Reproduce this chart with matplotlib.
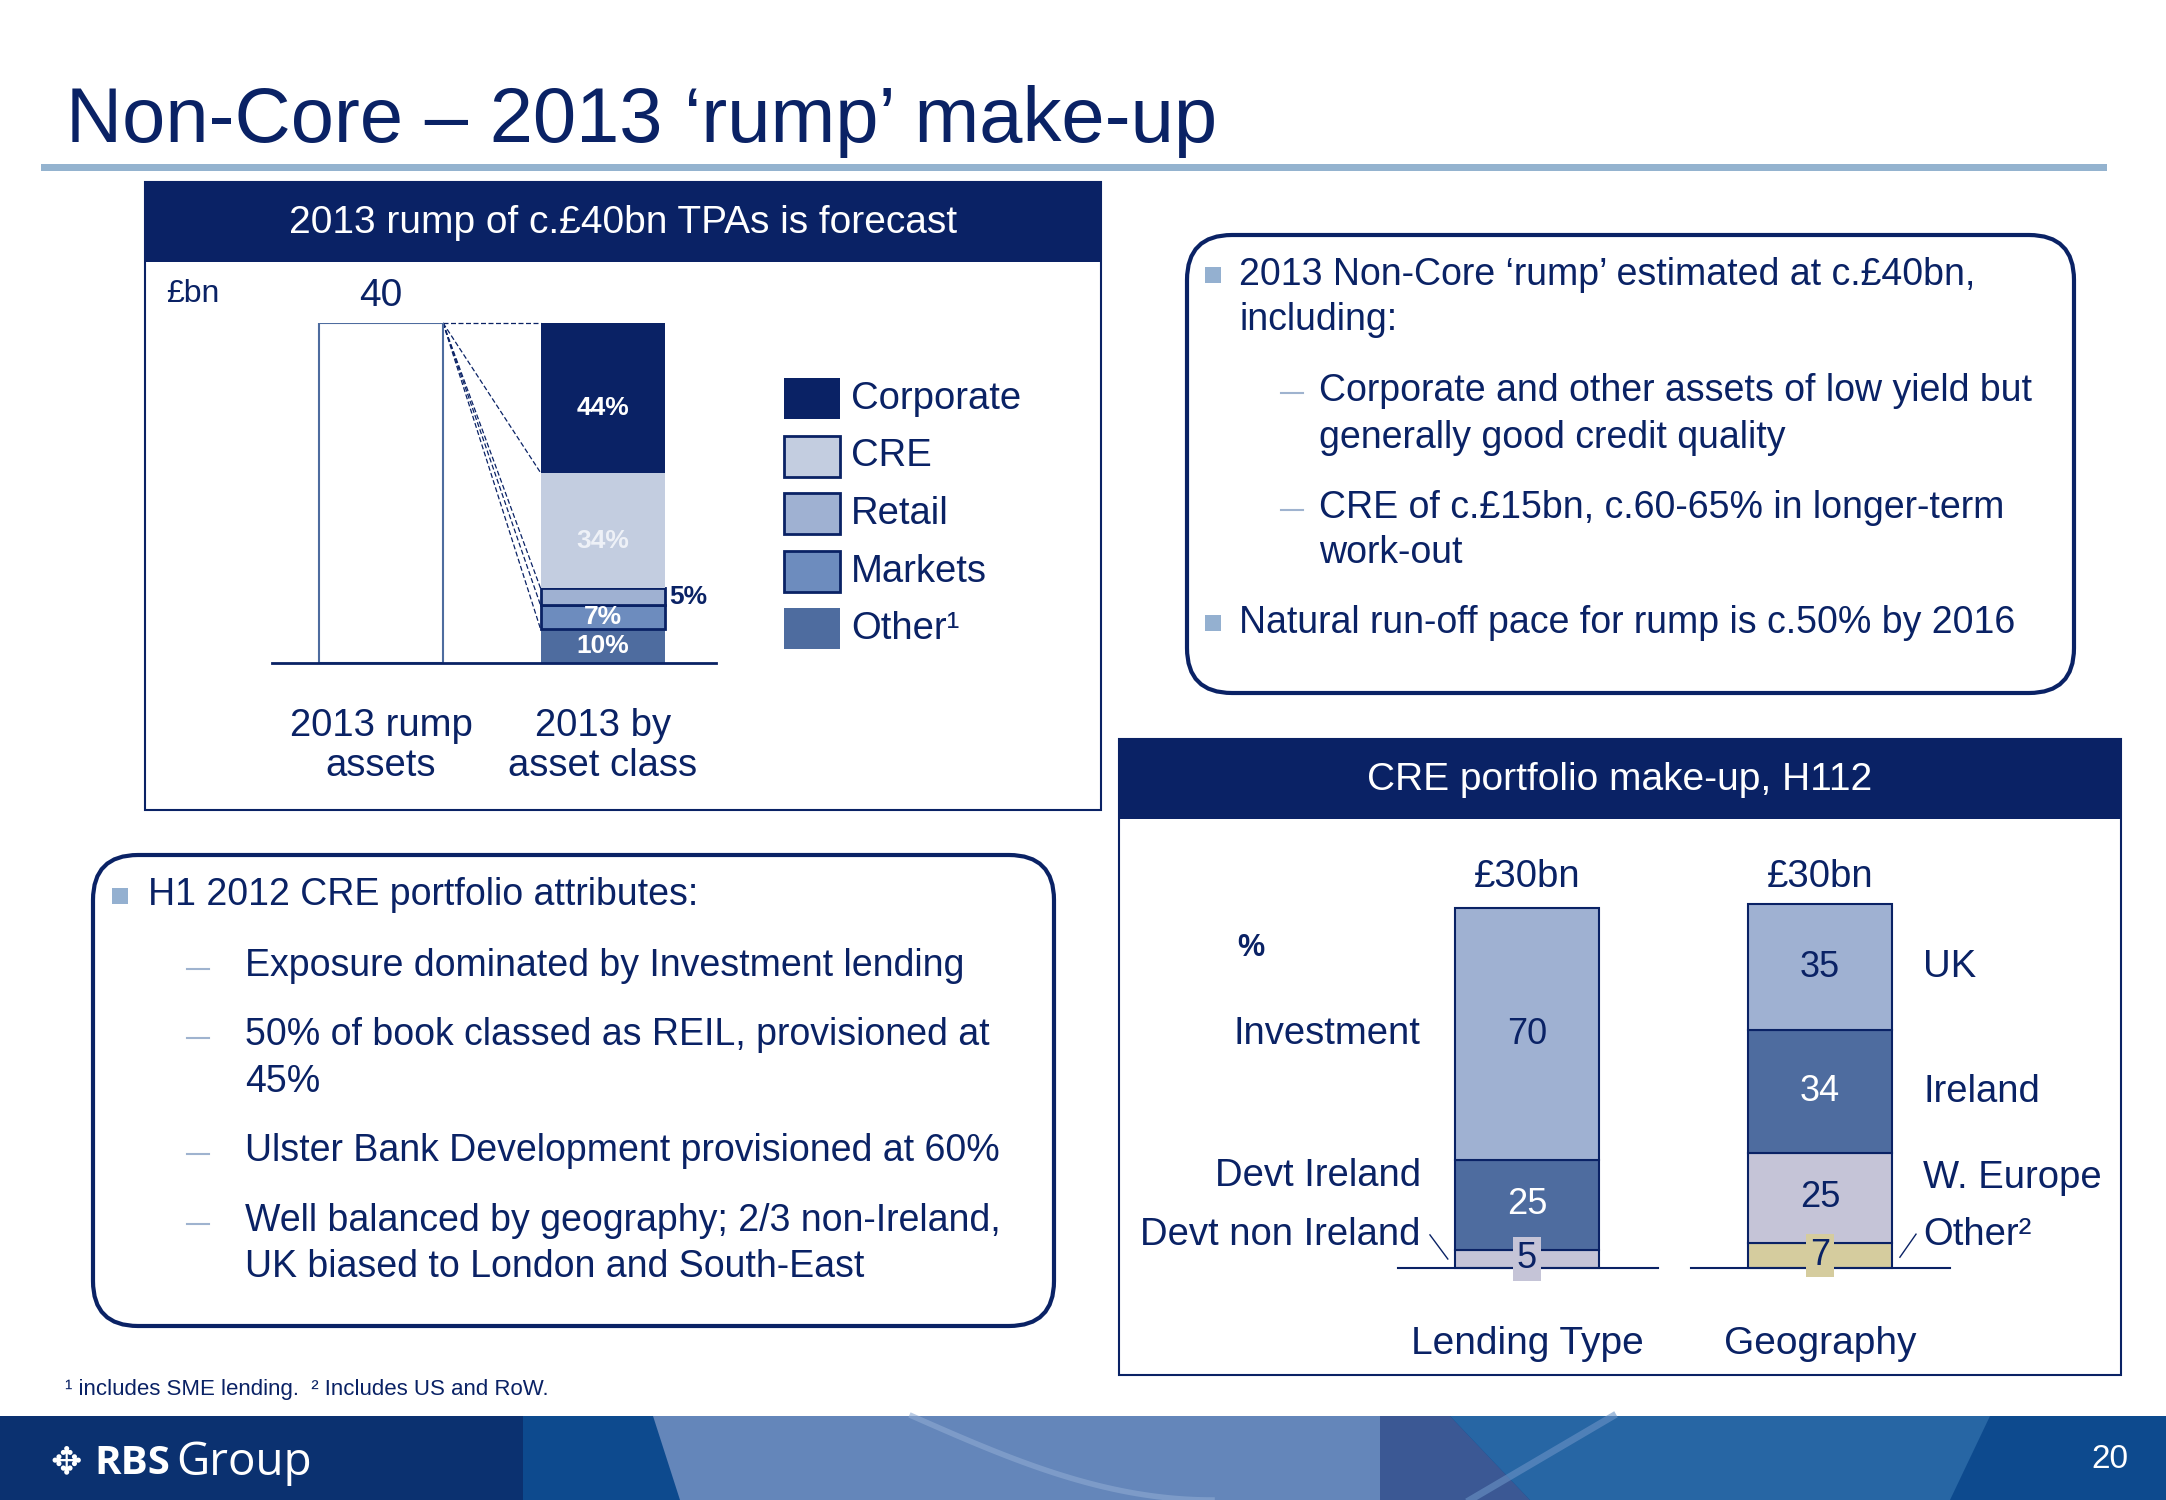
import matplotlib
matplotlib.use('Agg')
import numpy as np
import matplotlib.pyplot as plt
from matplotlib.patches import Rectangle, FancyBboxPatch, Polygon

plt.rcParams['font.family'] = ['Liberation Sans', 'DejaVu Sans']

navy = '#0A2265'
bullet_blue = '#94B0D0'
W, H = 2166, 1500

# left chart: 2013 rump
rump_total_bn = 40
asset_classes = ['Corporate', 'CRE', 'Retail', 'Markets', 'Other¹']
asset_share = [44, 34, 5, 7, 10]
rump_categories = ['2013 rump\nassets', '2013 by\nasset class']

# right chart: CRE portfolio H112
cre_categories = ['Lending Type', 'Geography']
cre_total_bn = [30, 30]
lending_types = ['Investment', 'Devt Ireland', 'Devt non Ireland']
lending_share = [70, 25, 5]
geographies = ['UK', 'Ireland', 'W. Europe', 'Other²']
geography_share = [35, 34, 25, 7]

asset_colors = ['#0A2265', '#C3CDE0', '#9FB1D2', '#6D8CBE', '#4E6C9F']
lending_colors = ['#9FB1D2', '#4E6C9F', '#C5C4D7']
geography_colors = ['#9FB1D2', '#4E6C9F', '#C5C4D7', '#D5CC9E']


def px_axes(fig, x0, y0, x1, y1):
    return fig.add_axes([x0 / W, 1 - y1 / H, (x1 - x0) / W, (y1 - y0) / H])


fig = plt.figure(figsize=(W / 100, H / 100), dpi=100)
bg = fig.add_axes([0, 0, 1, 1])
bg.set_xlim(0, W)
bg.set_ylim(H, 0)
bg.axis('off')

# title
bg.text(66, 142, 'Non-Core – 2013 ‘rump’ make-up', fontsize=56, color=navy, va='baseline')
bg.add_patch(Rectangle((41, 164), 2066, 7, color='#94B3CF', lw=0))

# ---- left chart frame
bg.add_patch(Rectangle((145, 182), 956, 628, fill=False, ec=navy, lw=1.5))
bg.add_patch(Rectangle((145, 182), 956, 80, fc=navy, lw=0))
bg.text(623, 223, '2013 rump of c.£40bn TPAs is forecast', color='white', fontsize=28,
        ha='center', va='center')
bg.text(166, 294, '£bn', color=navy, fontsize=23, va='center')

ax1 = px_axes(fig, 272, 323, 716, 663)
ax1.set_xlim(-0.492, 1.512)
ax1.set_ylim(0, 100)
ax1.axis('off')
bw = 0.56
total = sum(asset_share)
ax1.bar(0, total, bw, color='white', edgecolor='#4E6C9F', lw=1.5, zorder=2)
ax1.text(0, total + 8, str(rump_total_bn), color=navy, fontsize=28, ha='center', va='center')

bottom = 0
bounds = []
for name, val, c in reversed(list(zip(asset_classes, asset_share, asset_colors))):
    outlined = name in ('Retail', 'Markets')
    ax1.bar(1, val, bw, bottom=bottom, color=c, edgecolor=navy if outlined else c,
            lw=2 if outlined else 0, zorder=2)
    if name == 'Retail':
        ax1.text(1 + bw / 2 + 0.02, bottom + val / 2, f'{val}%', color=navy, fontsize=19,
                 fontweight='bold', ha='left', va='center')
    else:
        ax1.text(1, bottom + val / 2 - (3 if val > 20 else 0), f'{val}%',
                 color='white' if name != 'CRE' else '#EEF1F7', fontsize=19,
                 fontweight='bold', ha='center', va='center', zorder=3)
    bounds.append(bottom)
    bottom += val
# dashed leader lines from rump bar to the breakdown
for yb in [total] + sorted(bounds[1:], reverse=True):
    ax1.plot([bw / 2, 1 - bw / 2], [total, yb], color=navy, lw=0.9, ls=(0, (4, 2)),
             clip_on=False, zorder=1)
ax1.axhline(0, color=navy, lw=2, clip_on=False, zorder=3)
for i, lab in enumerate(rump_categories):
    ax1.text(i, -24.5, lab, color=navy, fontsize=27.5, ha='center', va='center',
             linespacing=1.15)

# legend
for i, (name, c) in enumerate(zip(asset_classes, asset_colors)):
    y = 378 + i * 57.5
    outlined = name in ('CRE', 'Retail', 'Markets')
    bg.add_patch(Rectangle((784, y), 56, 41, fc=c, ec=navy if outlined else c,
                           lw=2 if outlined else 0))
    bg.text(851, y + 21, name, color=navy, fontsize=27.5, va='center')

# ---- right top text box
bg.add_patch(FancyBboxPatch((1187, 235), 887, 458, boxstyle='round,pad=0,rounding_size=45',
                            fill=False, ec=navy, lw=3))
fs = 27
def bullet(x, y):
    bg.add_patch(Rectangle((x, y - 8), 16, 16, color=bullet_blue, lw=0))
def dash(x, y):
    bg.plot([x, x + 22], [y, y], color='#9FB3CF', lw=1.5)

bullet(1205, 275)
bg.text(1239, 275, '2013 Non-Core ‘rump’ estimated at c.£40bn,', color=navy, fontsize=fs, va='center')
bg.text(1239, 320, 'including:', color=navy, fontsize=fs, va='center')
dash(1281, 393)
bg.text(1319, 391, 'Corporate and other assets of low yield but', color=navy, fontsize=fs, va='center')
bg.text(1319, 438, 'generally good credit quality', color=navy, fontsize=fs, va='center')
dash(1281, 510)
bg.text(1319, 508, 'CRE of c.£15bn, c.60-65% in longer-term', color=navy, fontsize=fs, va='center')
bg.text(1319, 553, 'work-out', color=navy, fontsize=fs, va='center')
bullet(1205, 623)
bg.text(1239, 623, 'Natural run-off pace for rump is c.50% by 2016', color=navy, fontsize=fs, va='center')

# ---- bottom left text box
bg.add_patch(FancyBboxPatch((93, 855), 961, 471, boxstyle='round,pad=0,rounding_size=45',
                            fill=False, ec=navy, lw=3))
bullet(112, 896)
bg.text(148, 895, 'H1 2012 CRE portfolio attributes:', color=navy, fontsize=fs, va='center')
dash(187, 969)
bg.text(245, 966, 'Exposure dominated by Investment lending', color=navy, fontsize=fs, va='center')
dash(187, 1038)
bg.text(245, 1035, '50% of book classed as REIL, provisioned at', color=navy, fontsize=fs, va='center')
bg.text(245, 1082, '45%', color=navy, fontsize=fs, va='center')
dash(187, 1154)
bg.text(245, 1151, 'Ulster Bank Development provisioned at 60%', color=navy, fontsize=fs, va='center')
dash(187, 1224)
bg.text(245, 1221, 'Well balanced by geography; 2/3 non-Ireland,', color=navy, fontsize=fs, va='center')
bg.text(245, 1267, 'UK biased to London and South-East', color=navy, fontsize=fs, va='center')

# ---- right chart frame
bg.add_patch(Rectangle((1119, 739), 1002, 636, fill=False, ec=navy, lw=1.5))
bg.add_patch(Rectangle((1119, 739), 1002, 80, fc=navy, lw=0))
bg.text(1620, 780, 'CRE portfolio make-up, H112', color='white', fontsize=28,
        ha='center', va='center')

ax2 = px_axes(fig, 1398, 908, 1950, 1268)
ax2.set_xlim(-0.440, 1.444)
ax2.set_ylim(0, 100)
ax2.axis('off')
cw = 0.49
stacks = [(lending_types, lending_share, lending_colors),
          (geographies, geography_share, geography_colors)]
for i, (names, vals, cols) in enumerate(stacks):
    bottom = 0
    for name, val, c in reversed(list(zip(names, vals, cols))):
        ax2.bar(i, val, cw, bottom=bottom, color=c, edgecolor=navy, lw=1.5, clip_on=False, zorder=2)
        tc = 'white' if c == '#4E6C9F' else navy
        if val < 10:
            ax2.text(i, bottom + val / 2, str(val), color=tc, fontsize=26, ha='center', va='center',
                     zorder=4, bbox=dict(boxstyle='square,pad=0.12', fc=c, ec='none'))
        else:
            ax2.text(i, bottom + val / 2, str(val), color=tc, fontsize=26, ha='center',
                     va='center', zorder=4)
        bottom += val
    ax2.text(i, 108.5, f'£{cre_total_bn[i]}bn', color=navy, fontsize=27.5, ha='center', va='center')
    ax2.text(i, -21, cre_categories[i], color=navy, fontsize=28, ha='center', va='center')

ax2.plot([-0.44, 0.447], [0, 0], color=navy, lw=1.5, clip_on=False, zorder=3)
ax2.plot([0.56, 1.444], [0, 0], color=navy, lw=1.5, clip_on=False, zorder=3)
ax2.text(-0.99, 89, '%', color=navy, fontsize=22, fontweight='bold', ha='left', va='center')

# side labels
lend_y = [lending_share[1] + lending_share[2] + lending_share[0] / 2, 25.5, 9.3]
for name, y in zip(lending_types, lend_y):
    ax2.text(-0.362, y, name, color=navy, fontsize=27.5, ha='right', va='center')
ax2.plot([-0.331, -0.27], [9.2, 2.5], color=navy, lw=1, clip_on=False)
geo_cum = np.cumsum(geography_share[::-1])[::-1]
geo_y = [geo_cum[0] - geography_share[0] / 2, geo_cum[1] - geography_share[1] / 2, 25, 9.3]
for name, y in zip(geographies, geo_y):
    ax2.text(1.352, y, name, color=navy, fontsize=27.5, ha='left', va='center')
ax2.plot([1.328, 1.273], [9.4, 3.0], color=navy, lw=1, clip_on=False)

# footnote
bg.text(65, 1389, '¹ includes SME lending.  ² Includes US and RoW.', color=navy, fontsize=16, va='center')

# ---- footer band
bg.add_patch(Rectangle((0, 1416), W, 84, color='#0D4A8E', lw=0))
bg.add_patch(Rectangle((0, 1416), 523, 84, color='#0B3170', lw=0))
bg.add_patch(Polygon([(653, 1416), (1380, 1416), (1380, 1500), (680, 1500)], color='#6486BA', lw=0))
bg.add_patch(Polygon([(1380, 1416), (1450, 1416), (1530, 1500), (1380, 1500)], color='#3B5894', lw=0))
bg.add_patch(Polygon([(1450, 1416), (1990, 1416), (1950, 1500), (1530, 1500)], color='#2766A4', lw=0))
t = np.linspace(0, 1, 50)
bg.plot(912 + 300 * t, 1416 + 84 * np.sin(t * np.pi / 2), color='#8EAAD2', lw=4, alpha=0.6)
bg.plot([1470, 1613], [1500, 1416], color='#6A93C6', lw=5, alpha=0.6)
bg.text(50, 1463, '✥', color='white', fontsize=27, va='center', family='DejaVu Sans')
rbs = bg.text(94, 1463, 'RBS', color='white', fontsize=29, fontweight='bold', va='center',
              family=['Open Sans', 'Liberation Sans'])
renderer = fig.canvas.get_renderer()
x_end = rbs.get_window_extent(renderer).x1
bg.text(x_end + 6, 1463, 'Group', color='white', fontsize=33, va='center',
        family=['Open Sans', 'Liberation Sans'])
bg.text(2128, 1459, '20', color='white', fontsize=24, ha='right', va='center')

fig.savefig('out.png', dpi=100, facecolor='white')
